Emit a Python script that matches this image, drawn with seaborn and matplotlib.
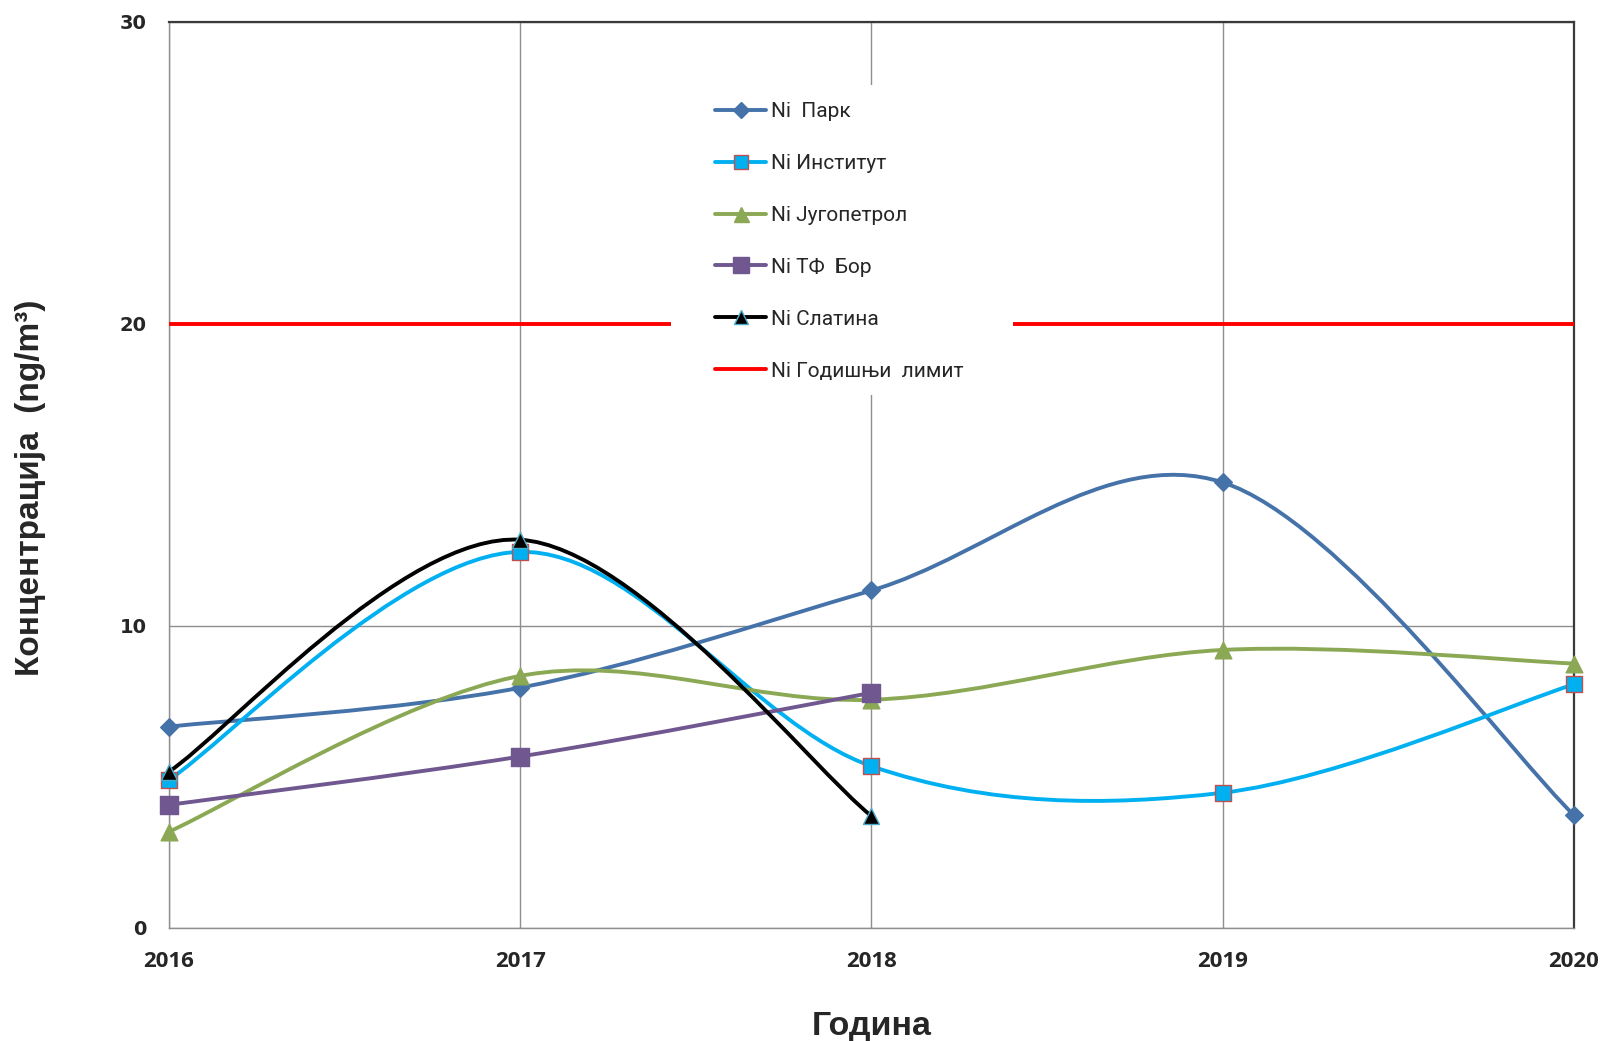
import numpy as np
import pandas as pd
import matplotlib
matplotlib.use("Agg")
import matplotlib.pyplot as plt
from matplotlib.path import Path
from matplotlib.patches import PathPatch, Rectangle
from matplotlib.lines import Line2D
import seaborn as sns

# ---- data: annual mean Ni concentration (ng/m3) per monitoring station ----
YEARS = [2016, 2017, 2018, 2019, 2020]
PARK = [6.66, 7.95, 11.17, 14.75, 3.73]
INSTITUT = [4.90, 12.45, 5.35, 4.47, 8.06]
JUGOPETROL = [3.18, 8.34, 7.55, 9.20, 8.75]
TF_BOR = [4.07, 5.67, 7.78, None, None]
SLATINA = [5.17, 12.85, 3.70, None, None]
LIMIT = [20, 20, 20, 20, 20]

LABELS = ["Ni  Парк", "Ni Институт", "Ni Југопетрол", "Ni ТФ  Бор",
          "Ni Слатина", "Ni Годишњи  лимит"]
Y_TICKS = [0, 10, 20, 30]

sns.set_style("white")
plt.rcParams["font.family"] = ["Roboto", "DejaVu Sans"]

# series styling: (values, line colour, marker, marker size, face, edge)
styles = [
    (PARK, "#4573A9", "D", 9.0, "#4573A9", "#4573A9"),
    (INSTITUT, "#00B0F0", "s", 11.0, "#00B0F0", "#C0504D"),
    (JUGOPETROL, "#8BA855", "^", 12.0, "#8BA855", "#8BA855"),
    (TF_BOR, "#70578F", "s", 12.5, "#70578F", "#70578F"),
    (SLATINA, "#000000", "^", 11.5, "#000000", "#4BACC6"),
]

fig = plt.figure(figsize=(16.02, 10.41), dpi=100)
ax = fig.add_axes([0.10549, 0.10884, 0.87703, 0.87003])


def smooth_path(xs, ys, k=1.0 / 6.0):
    """Bezier path through the points (Catmull-Rom style smoothing)."""
    pts = np.column_stack([xs, ys]).astype(float)
    n = len(pts)
    verts = [pts[0]]
    codes = [Path.MOVETO]
    for i in range(n - 1):
        p0 = pts[i - 1] if i > 0 else pts[i]
        p1 = pts[i]
        p2 = pts[i + 1]
        p3 = pts[i + 2] if i + 2 < n else pts[i + 1]
        verts += [p1 + (p2 - p0) * k, p2 - (p3 - p1) * k, p2]
        codes += [Path.CURVE4] * 3
    return Path(verts, codes)


z = 3
for vals, col, mk, ms, fc, ec in styles:
    df = pd.DataFrame({"year": YEARS, "value": vals}).dropna()
    ax.add_patch(PathPatch(smooth_path(df["year"], df["value"]),
                           facecolor="none", edgecolor=col, lw=2.8,
                           capstyle="round", joinstyle="round", zorder=z))
    sns.scatterplot(data=df, x="year", y="value", marker=mk, s=ms ** 2,
                    color=fc, edgecolor=ec, linewidth=1.0, ax=ax,
                    zorder=z + 0.5, legend=False, clip_on=False)
    z += 1

# annual limit value
sns.lineplot(x=YEARS, y=LIMIT, color="#FF0000", lw=2.8, ax=ax, zorder=z)

# axes & grid
ax.set_xlim(YEARS[0], YEARS[-1])
ax.set_ylim(0, 30)
ax.set_xticks(YEARS)
ax.set_yticks(Y_TICKS)
ax.grid(True, color="#8E8E8E", lw=1.0)
ax.set_axisbelow(True)
for side in ("left", "bottom"):
    ax.spines[side].set_color("#8E8E8E")
    ax.spines[side].set_linewidth(1.0)
for side in ("top", "right"):
    ax.spines[side].set_color("#3A3A3A")
    ax.spines[side].set_linewidth(1.6)

ax.tick_params(axis="both", direction="out", length=7, width=1.0,
               color="#8E8E8E")
ax.tick_params(axis="x", pad=10)
ax.tick_params(axis="y", pad=9)
for lab in ax.get_xticklabels():
    lab.set_fontfamily(["Open Sans", "DejaVu Sans"])
    lab.set_fontweight("bold")
    lab.set_fontsize(16)
for lab in ax.get_yticklabels():
    lab.set_fontfamily(["DejaVu Sans"])
    lab.set_fontweight("bold")
    lab.set_fontsize(14)

ax.set_xlabel("")
ax.set_ylabel("")
fig.text(871.5 / 1602, 1 - 1026 / 1041, "Година", ha="center", va="center",
         fontsize=24.5, fontweight="bold",
         family=["Liberation Sans", "DejaVu Sans"])
fig.text(31 / 1602, 1 - 488 / 1041, "Концентрација  (ng/m³)", rotation=90,
         ha="center", va="center", fontsize=24, fontweight="bold",
         family=["Liberation Sans", "DejaVu Sans"])

# legend on a white panel
ax.add_patch(Rectangle((0.3573, 0.5882), 0.2434, 0.3423,
                       transform=ax.transAxes, facecolor="white",
                       edgecolor="none", zorder=9, clip_on=False))
handles = []
for vals, col, mk, ms, fc, ec in styles:
    handles.append(Line2D([], [], color=col, lw=2.8, marker=mk,
                          markersize=ms * 0.9, markerfacecolor=fc,
                          markeredgecolor=ec))
handles.append(Line2D([], [], color="#FF0000", lw=2.8))
leg = ax.legend(handles, LABELS, loc="upper left",
                bbox_to_anchor=(715 / 1602, 1 - 102 / 1041),
                bbox_transform=fig.transFigure, frameon=False,
                borderpad=0, borderaxespad=0, fontsize=15,
                handlelength=2.45, handletextpad=0.25, labelspacing=1.58)
leg.set_zorder(10)

fig.savefig("out.png", dpi=100)
